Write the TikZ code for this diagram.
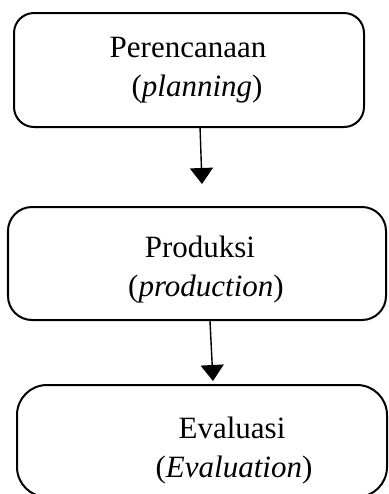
\documentclass[tikz,border=0pt]{standalone}
\usepackage{fontspec}
\setmainfont{Liberation Serif}
\usetikzlibrary{arrows.meta}
\tikzstyle{stepbox}=[rectangle, draw, line width=1pt, inner sep=0pt]
\tikzstyle{steptext}=[align=center, font=\fontsize{15.5}{19.5}\selectfont, inner sep=0pt]
\tikzstyle{flow}=[-{Triangle[width=11.5pt,length=8pt]}, line width=0.7pt]

\begin{document}
\begin{tikzpicture}[x=0.5pt,y=-0.5pt]
  \useasboundingbox (0,0) rectangle (388,494);
  % boxes
  \node[stepbox, rounded corners=10pt, minimum width=175pt, minimum height=57pt] (plan) at (189,70) {};
  \node[stepbox, rounded corners=12pt, minimum width=189pt, minimum height=56.5pt] (prod) at (197,263.5) {};
  \node[stepbox, rounded corners=15pt, minimum width=185pt, minimum height=56pt] (eval) at (202,441) {};
  % texts
  \node[steptext] (plantext) at (188,70.5) {Perencanaan\\\hspace*{9pt}(\textit{planning})};
  \node[steptext] (prodtext) at (200,270) {Produksi\\\hspace*{6pt}(\textit{production})};
  \node[steptext] (evaltext) at (232,451) {Evaluasi\\\hspace*{2pt}(\textit{Evaluation})};
  % arrows
  \coordinate (tip1) at (202,184);
  \coordinate (tip2) at (213,381);
  \draw[flow] ([xshift=5.5pt,yshift=1pt]plan.south) -- (tip1);
  \draw[flow] ([xshift=6.5pt]prod.south) -- (tip2);
\end{tikzpicture}
\end{document}
